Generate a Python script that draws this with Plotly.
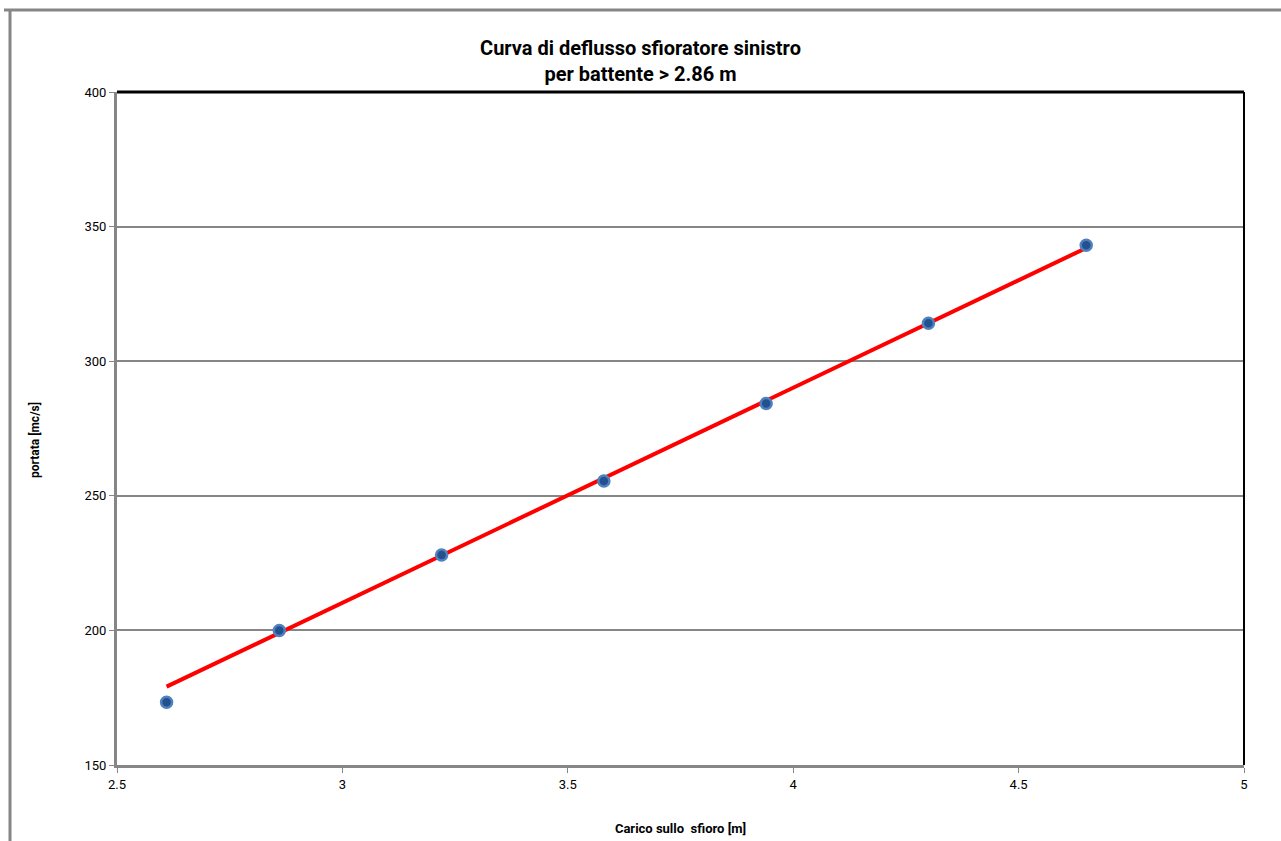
import numpy as np
import plotly.graph_objects as go

# Discharge curve data: head over the weir [m] vs discharge [mc/s]
carico = [2.61, 2.86, 3.22, 3.58, 3.94, 4.30, 4.65]
portata = [173.3, 200.0, 228.0, 255.5, 284.3, 314.1, 343.1]

# linear trend fitted on heads from 2.86 m upward, drawn over the whole data span
soglia = 2.86
xs = np.array([c for c in carico if c >= soglia])
ys = np.array([p for c, p in zip(carico, portata) if c >= soglia])
pendenza, intercetta = np.polyfit(xs, ys, 1)
x_trend = [min(carico), max(carico)]
y_trend = [pendenza * x + intercetta for x in x_trend]

x_ticks = [2.5, 3, 3.5, 4, 4.5, 5]
y_ticks = [150, 200, 250, 300, 350, 400]

W, H = 1281, 841
ML, MR, MT, MB = 117, 37, 92, 76
PW, PH = W - ML - MR, H - MT - MB

FONT = "Liberation Sans Narrow, Roboto, sans-serif"
GRID = "#868686"

fig = go.Figure()
fig.add_trace(go.Scatter(
    x=x_trend, y=y_trend, mode="lines",
    line=dict(color="#FF0000", width=4), showlegend=False, hoverinfo="skip"))
fig.add_trace(go.Scatter(
    x=carico, y=portata, mode="markers",
    marker=dict(size=11, color="#23508F", line=dict(color="#4F81BD", width=2.5)),
    showlegend=False))


def px_x(p):
    return (p - ML) / PW


def px_y(p):
    return (H - MB - p) / PH


shapes = [
    # outer frame of the chart area
    dict(type="line", xref="paper", yref="paper", x0=px_x(4), x1=px_x(W), y0=px_y(10), y1=px_y(10),
         line=dict(color=GRID, width=3)),
    dict(type="line", xref="paper", yref="paper", x0=px_x(10), x1=px_x(10), y0=px_y(10), y1=px_y(H),
         line=dict(color=GRID, width=3)),
    # plot border top/right
    dict(type="line", xref="paper", yref="paper", x0=0, x1=1, y0=1, y1=1,
         line=dict(color="black", width=3)),
    dict(type="line", xref="paper", yref="paper", x0=1, x1=1, y0=0, y1=1,
         line=dict(color="black", width=2)),
]

fig.update_layout(
    width=W, height=H,
    margin=dict(l=ML, r=MR, t=MT, b=MB),
    paper_bgcolor="white", plot_bgcolor="white",
    font=dict(family=FONT, size=12, color="black"),
    title=dict(
        text="<b>Curva di deflusso sfioratore sinistro<br>per battente > 2.86 m</b>",
        x=0.5, xanchor="center", y=1 - 55 / H, yanchor="middle",
        font=dict(family=FONT, size=20, color="black")),
    xaxis=dict(
        range=[2.5, 5], tickvals=x_ticks, ticktext=[str(t) for t in x_ticks],
        showgrid=False, zeroline=False, automargin=False,
        showline=True, linecolor=GRID, linewidth=3,
        ticks="outside", ticklen=5, tickcolor=GRID, tickwidth=1,
        tickfont=dict(family=FONT, size=13),
        title=dict(text="<b>Carico sullo  sfioro [m]</b>", font=dict(family=FONT, size=13), standoff=34),
    ),
    yaxis=dict(
        range=[150, 400], tickvals=y_ticks,
        showgrid=True, gridcolor=GRID, gridwidth=2, zeroline=False, automargin=False,
        showline=True, linecolor=GRID, linewidth=3,
        ticks="outside", ticklen=5, tickcolor=GRID, tickwidth=1,
        tickfont=dict(family=FONT, size=13),
    ),
    shapes=shapes,
    annotations=[dict(
        text="<b>portata [mc/s]</b>", textangle=-90,
        xref="paper", yref="paper", x=px_x(35), y=px_y(440),
        xanchor="center", yanchor="middle", showarrow=False,
        font=dict(family=FONT, size=12, color="black"))],
)

fig.write_html("out.html")
